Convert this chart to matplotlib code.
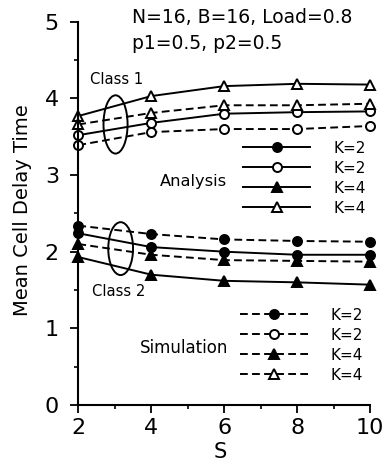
import matplotlib
matplotlib.use("Agg")
import matplotlib.pyplot as plt
from matplotlib.patches import Ellipse
from matplotlib.ticker import MultipleLocator

# Values
S = [2, 4, 6, 8, 10]

# Class 1 (open markers), Class 2 (filled markers)
ana_c1_k2 = [3.52, 3.68, 3.80, 3.82, 3.83]
ana_c1_k4 = [3.77, 4.03, 4.16, 4.19, 4.18]
sim_c1_k2 = [3.39, 3.56, 3.60, 3.60, 3.64]
sim_c1_k4 = [3.66, 3.81, 3.91, 3.91, 3.93]

ana_c2_k2 = [2.24, 2.06, 2.00, 1.96, 1.96]
ana_c2_k4 = [1.93, 1.70, 1.62, 1.60, 1.57]
sim_c2_k2 = [2.34, 2.23, 2.16, 2.14, 2.13]
sim_c2_k4 = [2.10, 1.96, 1.89, 1.88, 1.87]

x_ticks = [2, 4, 6, 8, 10]
y_ticks = [0, 1, 2, 3, 4, 5]

plt.rcParams["font.family"] = ["DejaVu Sans"]

fig = plt.figure(figsize=(3.84, 4.71), dpi=100)
ax = fig.add_axes([0.204, 0.1401, 0.7599, 0.8138])

lw = 1.4
dash = (4, 2.2)
common = dict(color="black", lw=lw, clip_on=False, mec="black", mew=1.4)

# Analysis (solid)
a1, = ax.plot(S, ana_c2_k2, marker="o", ms=6.5, mfc="black", label="K=2", **common)
a2, = ax.plot(S, ana_c1_k2, marker="o", ms=6.5, mfc="white", label="K=2", **common)
a3, = ax.plot(S, ana_c2_k4, marker="^", ms=7, mfc="black", label="K=4", **common)
a4, = ax.plot(S, ana_c1_k4, marker="^", ms=7, mfc="white", label="K=4", **common)

# Simulation (dashed)
s1, = ax.plot(S, sim_c2_k2, marker="o", ms=6.5, mfc="black", dashes=dash, label="K=2", **common)
s2, = ax.plot(S, sim_c1_k2, marker="o", ms=6.5, mfc="white", dashes=dash, label="K=2", **common)
s3, = ax.plot(S, sim_c2_k4, marker="^", ms=7, mfc="black", dashes=dash, label="K=4", **common)
s4, = ax.plot(S, sim_c1_k4, marker="^", ms=7, mfc="white", dashes=dash, label="K=4", **common)

# Ellipses grouping the classes
ax.add_patch(Ellipse((3.02, 3.66), 0.66, 0.76, fill=False, lw=1.4, ec="black"))
ax.add_patch(Ellipse((3.16, 2.04), 0.68, 0.69, fill=False, lw=1.4, ec="black"))

# Legends
leg_kw = dict(frameon=False, fontsize=11, handlelength=4.4, handletextpad=1.5,
              labelspacing=0.33, borderpad=0, borderaxespad=0, numpoints=1,
              loc="upper left")
leg1 = ax.legend(handles=[a1, a2, a3, a4], bbox_to_anchor=(0.565, 0.69), **leg_kw)
ax.add_artist(leg1)
ax.legend(handles=[s1, s2, s3, s4], bbox_to_anchor=(0.555, 0.254), **leg_kw)

# Text
ax.text(3.46, 5.06, "N=16, B=16, Load=0.8", fontsize=13.5, va="center", ha="left", clip_on=False)
ax.text(3.46, 4.72, "p1=0.5, p2=0.5", fontsize=13.5, va="center", ha="left", clip_on=False)
ax.text(2.32, 4.24, "Class 1", fontsize=10.6, va="center", ha="left")
ax.text(2.38, 1.48, "Class 2", fontsize=10.6, va="center", ha="left")
ax.text(4.24, 2.91, "Analysis", fontsize=11.7, va="center", ha="left")
ax.text(3.69, 0.74, "Simulation", fontsize=12, va="center", ha="left")

# Axes
ax.set_xlim(2, 10)
ax.set_ylim(0, 5)
ax.set_xticks(x_ticks)
ax.set_yticks(y_ticks)
ax.xaxis.set_minor_locator(MultipleLocator(1))
ax.yaxis.set_minor_locator(MultipleLocator(0.5))
ax.tick_params(which="major", direction="out", length=6, width=1.3, labelsize=16)
ax.tick_params(axis="y", which="major", pad=8)
ax.tick_params(which="minor", direction="out", length=3, width=1.2)
for side in ["top", "right"]:
    ax.spines[side].set_visible(False)
for side in ["left", "bottom"]:
    ax.spines[side].set_linewidth(1.5)

ax.set_xlabel("S", fontsize=15, va="center")
ax.xaxis.set_label_coords(0.486, -0.123)
ax.set_ylabel("Mean Cell Delay Time", fontsize=14, va="center")
ax.yaxis.set_label_coords(-0.193, 0.509)

fig.savefig("out.png", dpi=100)
